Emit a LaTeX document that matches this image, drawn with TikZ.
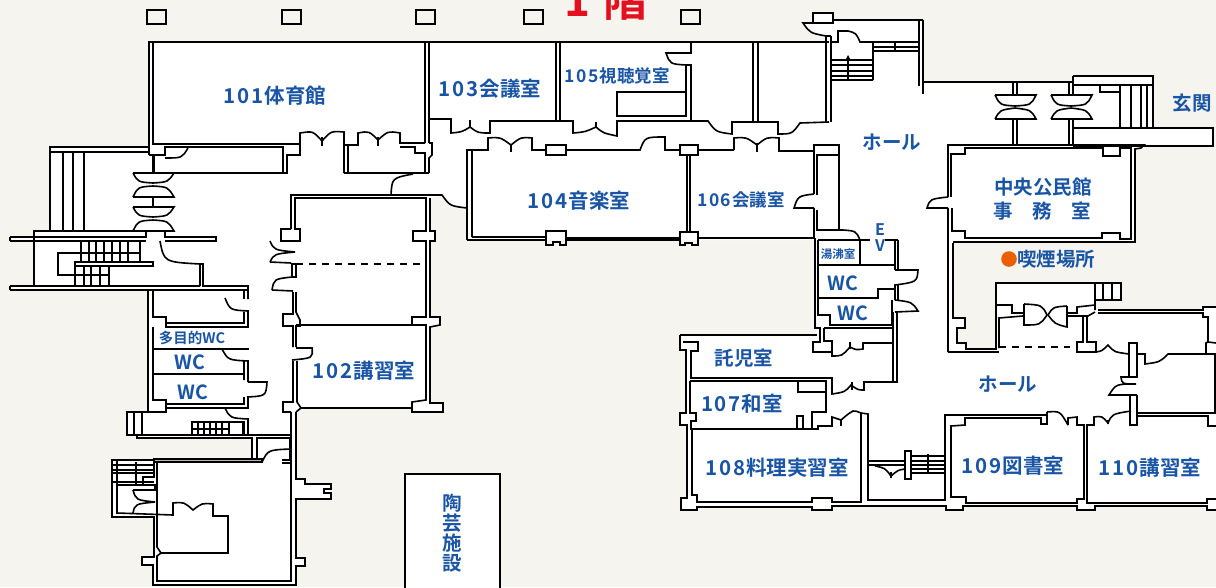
\documentclass[tikz,border=0pt]{standalone}
\usepackage{fontspec}
\newfontfamily\jp{Noto Sans CJK JP Bold}
\newfontfamily\ttl{Noto Sans CJK JP Bold}
\newcommand\dg[1]{{\addfontfeature{LetterSpace=9}#1\kern1pt}}
\definecolor{paper}{HTML}{F5F4EF}
\definecolor{lab}{HTML}{1A55A5}
\definecolor{ttlred}{HTML}{E5101F}
\definecolor{dot}{HTML}{EA6000}
\tikzset{
  wall/.style={draw=black,line width=1.6pt,line join=miter},
  thin wall/.style={draw=black,line width=1.3pt},
  lbl/.style={text=lab,inner sep=0pt,font=\jp\fontsize{20.5}{22}\selectfont},
  lblm/.style={text=lab,inner sep=0pt,font=\jp\fontsize{17.5}{19}\selectfont},
  lblx/.style={text=lab,inner sep=0pt,font=\jp\fontsize{19.5}{21}\selectfont},
  lblv/.style={text=lab,inner sep=0pt,font=\jp\fontsize{16}{17}\selectfont},
  lbls/.style={text=lab,inner sep=0pt,font=\jp\fontsize{14.5}{16}\selectfont},
}
\begin{document}
\begin{tikzpicture}[x=1pt,y=-1pt]
\useasboundingbox (0,0) rectangle (1216,587);
\clip (0,0) rectangle (1216,587);
\fill[paper] (0,0) rectangle (1216,587);
% white building
\fill[white] (149,42)--(825,42)--(825,36) .. controls (812,34) .. (803,23)--(813,23)--(813,13)--(833,13)--(833,20)--(923,20)--(923,82)--(1073,82)--(1073,76)--(1153,76)--(1153,128)--(1213,128)--(1213,146)--(1144,146)--(1135,149)--(1135,243)--(953,243)--(953,318)--(965,318)--(965,328)--(958,328)--(958,343)--(966,343)--(966,349)--(996,349)--(996,283)--(1121,283)--(1121,300)--(1095,300)--(1095,310)--(1203,310)--(1203,307)--(1216,307)--(1216,510)--(1207,510)--(1207,506)--(1095,506)--(1095,510)--(1077,510)--(1077,506)--(963,506)--(963,510)--(946,510)--(946,506)--(832,506)--(832,510)--(812,510)--(812,506)--(697,507)--(697,510)--(681,510)--(681,498)--(687,498)--(687,425)--(680,425)--(680,413)--(686,413)--(686,350)--(680,350)--(680,335)--(817,335)--(815,240)--(467,240)--(467,208) .. controls (450,206) .. (442,196)--(430,198)--(430,231)--(435,231)--(435,241)--(430,241)--(430,317)--(440,317)--(440,325)--(430,327)--(430,403)--(443,403)--(443,412)--(412,412)--(412,408)--(301,408)--(296,412)--(296,479)--(305,479)--(305,484)--(331,484)--(331,499)--(296,499)--(296,558)--(305,558)--(305,566)--(296,566)--(296,585)--(153,585)--(153,565)--(142,565)--(142,557)--(154,557)--(154,517)--(112,517)--(112,460)--(252,460)--(252,438)--(137,438)--(137,435)--(127,435)--(127,412)--(148,412)--(148,290)--(10,290)--(10,286)--(34,286)--(34,241)--(10,241)--(10,237)--(34,237)--(34,231)--(50,231)--(50,147)--(149,147)--cycle;
% windows
\foreach \a in {147,282,416,524,681}{\draw[wall] (\a,10) rectangle ++(19,14);}
% 101 and top wall
\draw[wall] (149,155)--(149,42)--(829,42);
\draw[wall] (300,144)--(153,144)--(153,42);
\draw[wall] (425,143)--(425,42) (429,143)--(429,42);
\draw[wall] (149,155)--(165,155)--(165,147)--(283,147)--(283,173);
\draw[wall] (165,158) .. controls (182,158) .. (188,148);
\draw[wall] (154,155)--(154,173)--(287,173)--(287,155)--(300,155)--(300,133) .. controls (313,131) .. (322,141) .. controls (331,131) .. (344,132)--(344,173);
\draw[wall] (322,137)--(322,146);
\draw[wall] (348,145)--(348,173) (344,173)--(429,173);
\draw[wall] (344,145)--(358,145)--(358,133) .. controls (369,131) .. (378,140) .. controls (388,131) .. (400,133)--(400,143)--(425,143);
\draw[wall] (378,137)--(378,146);
\draw[wall] (400,147)--(415,147)--(415,153)--(425,153)--(425,173);
\draw[wall] (429,143)--(432,143)--(432,155)--(429,158)--(429,173);
\draw[wall] (391,195) .. controls (392,178) .. (413,174);
% left annex
\draw[wall] (50,231)--(50,147)--(148,147) (50,152)--(148,152);
\draw[wall] (63,152)--(63,231) (73,152)--(73,231) (84,152)--(84,231);
\draw[wall] (34,287)--(34,231)--(146,231)--(146,238);
\draw[wall] (10,237)--(146,237) (10,241)--(146,241) (10,237)--(10,241);
\draw[wall] (165,231)--(165,237)--(216,237)--(216,241)--(165,241) (146,231)--(165,231);
\draw[wall] (153,155)--(153,173);
\draw[wall] (133,173)--(174,173) .. controls (168,182) .. (153,183) .. controls (138,182) .. (133,173);
\draw[wall] (133,197)--(174,197) .. controls (168,187) .. (153,186) .. controls (138,187) .. (133,197);
\draw[wall] (153,197)--(153,207);
\draw[wall] (133,207)--(174,207) .. controls (168,216) .. (153,217) .. controls (138,216) .. (133,207);
\draw[wall] (133,231)--(174,231) .. controls (168,221) .. (153,220) .. controls (138,221) .. (133,231);
% lower-left stair
\foreach \a in {81,89,96,104,112,120,128,140}{\draw[thin wall] (\a,241)--(\a,261);}
\draw[thin wall] (81,253)--(140,253);
\draw[wall] (81,253)--(58,253)--(58,275)--(75,275);
\draw[wall] (75,262)--(153,262)--(153,266)--(75,266)--cycle;
\foreach \a in {75,84,91,100,109}{\draw[thin wall] (\a,266)--(\a,287);}
\draw[thin wall] (75,275)--(109,275);
\draw[wall] (10,286)--(200,286) (10,290)--(248,290) (10,286)--(10,290);
\draw[wall] (160,241) .. controls (164,262) .. (200,264)--(200,286) (200,264)--(203,264)--(203,286)--(248,286)--(248,299);
% west rooms
\draw[wall] (148,290)--(148,412)--(127,412)--(127,435)--(291,435);
\draw[wall] (153,290)--(153,317)--(166,317)--(166,327)--(248,327)--(248,311) .. controls (230,310) .. (225,298);
\draw[wall] (166,323)--(244,323)--(244,312);
\draw[wall] (244,290)--(244,299);
\draw[wall] (153,327)--(153,400)--(166,400)--(166,412)--(148,412);
\draw[wall] (153,349)--(249,349) (153,374)--(244,374);
\draw[wall] (222,349) .. controls (228,360) .. (248,361)--(248,382) (244,361)--(244,380);
\draw[wall] (248,382)--(267,382) .. controls (266,396) .. (247,397);
\draw[wall] (244,397)--(244,404)--(166,404) (248,397)--(248,408)--(166,408);
\draw[wall] (225,408) .. controls (230,418) .. (248,419)--(248,435) (244,421)--(244,435);
\foreach \a in {134,142}{\draw[thin wall] (\a,412)--(\a,435);}
\draw[thin wall] (192,422) rectangle (243,435);
\foreach \a in {198,204,210,216,222,229}{\draw[thin wall] (\a,422)--(\a,435);}
\draw[thin wall] (192,429)--(229,429);
\draw[wall] (137,435)--(137,438)--(252,438)--(252,460) (257,459)--(257,438)--(290,438)--(290,460);
\draw[wall,fill=gray!60] (154,459) rectangle (262,462);
\draw[wall] (290,449) .. controls (268,450) .. (262,462);
\draw[wall] (282,460)--(291,460) (282,463)--(291,463);
% south-west block
\draw[wall] (291,412)--(291,581)--(157,581)--(157,556)--(161,553)--(157,547)--(157,462);
\draw[wall] (296,412)--(296,479)--(305,479)--(305,484)--(331,484)--(331,489)--(324,489)--(324,493)--(331,493)--(331,499)--(296,499)--(296,558)--(305,558)--(305,566)--(296,566)--(296,585)--(153,585)--(153,565)--(142,565)--(142,557)--(154,557)--(154,517)--(112,517)--(112,460)--(154,460)--(154,477)--(143,477)--(143,485);
\draw[wall] (117,460)--(117,513)--(173,515)--(173,503) .. controls (184,502) .. (193,510) .. controls (202,503) .. (213,504)--(213,516)--(228,516)--(228,553)--(161,553);
\draw[wall] (133,513) .. controls (135,504) .. (155,502);
\draw[wall] (133,490) .. controls (136,500) .. (155,502);
\draw[wall] (117,485)--(155,485)--(155,490)--(133,490) (155,490)--(157,490);
\foreach \a in {465,470,473,482}{\draw[thin wall] (112,\a)--(154,\a);}
\draw[thin wall] (136,462)--(136,485);
% 102
\draw[wall] (291,229)--(291,195)--(442,195) .. controls (450,206) .. (467,208);
\draw[wall] (291,229)--(281,229)--(281,241)--(300,241)--(300,229)--(295,229)--(295,198)--(426,198)--(426,231)--(413,231)--(413,241)--(426,241)--(426,317)--(412,317)--(412,325)--(296,325);
\draw[wall] (430,198)--(430,231)--(435,231)--(435,241)--(430,241)--(430,317)--(440,317)--(440,325)--(430,327)--(430,403)--(443,403)--(443,412)--(412,412)--(412,402)--(426,400)--(426,325)--(412,325);
\draw[wall,dash pattern=on 7pt off 6pt,line width=1.2pt] (296,264)--(426,264);
\draw[wall] (270,241) .. controls (274,250) .. (295,252) (270,262) .. controls (274,254) .. (295,252);
\draw[wall] (270,262)--(291,263);
\draw[wall] (292,264)--(292,277)--(296,277)--(296,264)--cycle;
\draw[wall] (272,290) .. controls (274,279) .. (292,277) (272,290)--(293,291);
\draw[wall] (293,292)--(293,314)--(283,314)--(283,326)--(293,326)--(293,347) (296,292)--(296,312)--(300,320)--(300,326)--(296,326)--(296,347);
\draw[wall] (296,348)--(312,348) .. controls (313,358) .. (292,360);
\draw[wall] (293,361)--(293,402)--(283,402)--(283,412)--(291,412) (297,361)--(297,402)--(301,408)--(296,412);
\draw[wall] (301,408)--(412,408);
% 103 / 105 top row
\draw[wall] (429,119)--(451,119)--(451,133) .. controls (462,132) .. (470,127) .. controls (478,133) .. (490,133)--(490,121)--(573,121)--(573,133) .. controls (585,132) .. (596,127) .. controls (603,133) .. (617,136)--(617,121)--(708,121) .. controls (716,132) .. (732,134)--(732,122)--(778,122)--(778,134) .. controls (792,134) .. (800,123)--(829,122);
\draw[wall] (470,120)--(470,128) (596,122)--(596,128);
\draw[wall] (556,42)--(556,120) (560,42)--(560,120);
\draw[wall] (753,42)--(753,121) (758,42)--(758,121);
\draw[wall] (686,65)--(691,65)--(691,121) (691,42)--(691,53)--(666,53) .. controls (670,64) .. (686,65)--(686,116);
\draw[wall] (617,92) rectangle (686,116);
% 104 & 106
\draw[wall] (472,237)--(472,150)--(488,150)--(488,138) .. controls (500,137) .. (511,145) .. controls (521,137) .. (532,138)--(532,150)--(546,150);
\draw[wall] (511,144)--(511,152);
\draw[wall] (467,240)--(467,150)--(472,150);
\draw[wall] (546,145) rectangle (566,155);
\draw[wall] (566,150)--(640,150) .. controls (645,137) .. (665,137)--(665,150)--(680,150);
\draw[wall] (680,145) rectangle (698,155);
\draw[wall,line width=2pt] (698,150)--(734,150);
\draw[wall] (734,150)--(734,138) .. controls (746,137) .. (757,145) .. controls (767,137) .. (779,138)--(779,151)--(814,151);
\draw[wall] (757,143)--(757,152);
\draw[wall] (687,155)--(687,231) (690,155)--(690,231);
\draw[wall] (472,237)--(546,237) (467,240)--(546,240);
\draw[wall] (546,231)--(566,231)--(566,245)--(560,245)--(560,242)--(553,242)--(553,245)--(546,245)--cycle;
\draw[wall] (566,238)--(680,238) (566,240)--(680,240);
\draw[wall] (680,232)--(698,232)--(698,245)--(692,245)--(692,243)--(685,243)--(685,245)--(680,245)--cycle;
\draw[wall] (698,238)--(815,238);
% 106 east core
\draw[wall] (814,194)--(814,145)--(839,145)--(839,230);
\draw[wall] (817,195)--(817,155)--(839,155);
\draw[wall] (814,208)--(794,208) .. controls (798,196) .. (814,194);
\draw[wall] (814,208)--(814,238) (817,210)--(817,230)--(843,230) .. controls (856,231) .. (860,240);
\draw[wall] (815,238)--(815,328)--(820,328)--(820,342)--(813,342)--(813,352)--(832,352);
\draw[wall] (818,240)--(860,240)--(860,265)--(818,265);
\draw[wall] (818,240)--(818,315)--(830,315)--(830,325)--(892,325)--(892,300);
\draw[wall] (860,240)--(870,240) (885,240)--(898,240);
\draw[wall] (860,265)--(895,265);
\draw[wall] (895,240)--(895,270) (898,240)--(898,270);
\draw[wall] (895,270)--(918,270) .. controls (917,282) .. (895,285)--(895,300) (898,285)--(898,300);
\draw[wall] (818,298)--(878,298)--(878,289)--(895,289);
\draw[wall] (895,300) .. controls (912,302) .. (918,311)--(895,312);
\draw[wall] (897,312)--(897,382)--(864,382)--(864,390) .. controls (858,390) .. (851,385) .. controls (845,392) .. (832,394)--(832,378)--(690,378) (893,312)--(893,382);
\draw[wall] (852,382)--(852,390);
\draw[wall] (824,328)--(893,328) (824,328)--(824,341)--(832,341)--(832,356) .. controls (842,356) .. (850,347) .. controls (856,350) .. (863,349)--(863,343)--(893,343);
\draw[wall] (850,342)--(850,349);
% west of nursery
\draw[wall] (680,335)--(817,335) (680,335)--(680,350)--(686,350)--(686,413)--(680,413)--(680,425)--(687,425)--(687,498)--(681,498)--(681,510)--(697,510)--(697,507)--(812,507)--(812,510)--(832,510)--(832,506)--(946,506)--(946,510)--(963,510)--(963,506)--(1077,506)--(1077,510)--(1095,510)--(1095,506)--(1207,506)--(1207,510)--(1216,510);
\draw[wall] (683,342)--(698,342)--(698,351)--(691,351)--(691,378);
\draw[wall] (690,381)--(826,381)--(826,392)--(798,392)--(798,381);
\draw[wall] (826,392)--(826,412)--(812,412)--(812,428);
\draw[wall] (690,381)--(690,413)--(696,413)--(696,421)--(691,421)--(691,429)--(818,429)--(818,426)--(832,426)--(832,417) .. controls (836,419) .. (841,420) .. controls (848,414) .. (853,411) .. controls (856,411) .. (861,413);
\draw[wall] (797,429)--(797,416)--(803,416)--(803,429);
\draw[wall] (841,420)--(841,426);
\draw[wall] (692,429)--(692,495)--(697,495)--(697,502)--(812,502)--(812,498)--(832,498)--(832,502)--(861,502)--(861,413)--(868,414)--(868,500)--(945,500);
% passage stair
\draw[wall] (868,461)--(905,461) (868,465)--(905,465);
\draw[wall] (875,466) .. controls (885,468) .. (891,476) .. controls (898,470) .. (905,469);
\draw[wall] (891,472)--(891,478);
\draw[wall] (905,451) rectangle (911,479);
\foreach \a in {456,461,465,469,473}{\draw[thin wall] (911,\a)--(945,\a);}
\draw[thin wall] (928,454)--(928,473);
% 109
\draw[wall] (945,501)--(945,415)--(1047,415);
\draw[wall] (1047,412)--(1047,424)--(1041,424)--(1041,418)--(965,418)--(965,425)--(951,426)--(951,497)--(966,497)--(966,503)--(1077,503)--(1077,499)--(1084,499)--(1084,425)--(1077,425)--(1077,417) .. controls (1072,417) .. (1068,418)--(1068,425);
\draw[wall] (1047,412) .. controls (1060,411) .. (1068,425);
% 110
\draw[wall] (1087,499)--(1087,425)--(1094,425)--(1094,417) .. controls (1102,416) .. (1108,423) .. controls (1112,414) .. (1131,411);
\draw[wall] (1108,420)--(1108,424);
\draw[wall] (1087,499)--(1087,503)--(1207,503)--(1207,499)--(1216,499);
\draw[wall] (1130,395)--(1130,425)--(1137,425)--(1137,395);
\draw[wall] (1137,416)--(1208,416)--(1208,426)--(1216,426);
\draw[wall] (1137,413)--(1215,413)--(1215,354)--(1168,354) .. controls (1160,362) .. (1145,364)--(1145,354)--(1137,354);
\draw[wall] (1129,343) rectangle (1137,377);
\draw[wall] (1129,377)--(1121,377) .. controls (1122,384) .. (1136,384) .. controls (1116,384) .. (1109,395)--(1137,395);
% entrance block / right rooms
\draw[wall] (953,243)--(953,318)--(965,318)--(965,328)--(957,328)--(957,343)--(966,343)--(966,349)--(996,349)--(996,283)--(1121,283)--(1121,300)--(1095,300);
\draw[wall] (1103,283)--(1103,300) (1112,283)--(1112,300);
\draw[wall] (1095,283)--(1095,310) (1098,310)--(1203,310)--(1203,307)--(1216,307) (1098,313)--(1203,313)--(1203,317)--(1208,317)--(1208,342)--(1206,343)--(1206,354) (1208,342)--(1216,343);
\draw[wall] (999,348)--(999,318)--(1023,316) (997,305)--(1012,305)--(1012,313)--(1023,313);
\draw[wall] (948,352)--(966,352) (966,352)--(999,352);
\draw[wall] (1024,304)--(1024,325) .. controls (1040,325) .. (1047,315) .. controls (1042,305) .. (1024,304);
\draw[wall] (1067,306)--(1067,327) .. controls (1055,324) .. (1048,315) .. controls (1053,307) .. (1067,306);
\draw[wall] (1068,313)--(1077,313)--(1077,307)--(1095,305);
\draw[wall] (1068,316)--(1088,316)--(1095,312);
\draw[wall,dash pattern=on 7pt off 6pt,line width=1.2pt] (999,347)--(1070,347);
\draw[wall] (1083,317)--(1083,342)--(1077,342)--(1077,352)--(1096,352)--(1096,342)--(1087,342)--(1087,317);
\draw[wall] (1096,352) .. controls (1102,351) .. (1108,345) .. controls (1114,352) .. (1129,354);
% office
\draw[wall] (948,197)--(948,145)--(1144,145)--(1141,148)--(1135,149)--(1135,242)--(953,242);
\draw[wall] (951,197)--(951,154)--(965,154)--(965,148)--(1103,148)--(1103,156)--(1120,156)--(1120,148)--(1131,148)--(1131,239)--(1120,239)--(1120,233)--(1102,233)--(1102,238)--(965,238)--(965,231)--(952,231)--(952,208);
\draw[wall] (948,208)--(948,352) (948,208)--(927,208) .. controls (930,199) .. (948,197);
% hall north + entrance
\draw[wall] (919,86)--(919,20) (923,94)--(923,20) (833,20)--(923,20);
\draw[wall] (923,82)--(1073,82);
\draw[wall] (1013,82)--(1013,95) (1017,82)--(1017,95) (1013,119)--(1013,145) (1017,119)--(1017,145);
\draw[wall] (1069,82)--(1069,95) (1073,76)--(1073,95) (1069,119)--(1069,145) (1073,119)--(1073,145);
\foreach \c in {1015,1071}{
\draw[wall] (\c-20,95)--(\c+21,95) .. controls (\c+16,105) .. (\c,106) .. controls (\c-15,105) .. (\c-20,95);
\draw[wall] (\c-20,119)--(\c+21,119) .. controls (\c+16,110) .. (\c,108) .. controls (\c-15,110) .. (\c-20,119);
}
\draw[wall] (1073,76)--(1153,76)--(1153,128) (1073,85)--(1153,85) (1073,128)--(1213,128)--(1213,146)--(1073,146);
\foreach \a in {1120,1131,1141,1147}{\draw[thin wall] (\a,85)--(\a,128);}
\draw[wall] (1100,85)--(1100,92)--(1120,92);
% top stair
\draw[wall] (813,13) rectangle (833,23);
\draw[wall] (813,23)--(803,23) .. controls (810,33) .. (826,36);
\draw[wall] (826,36)--(826,122) (831,36)--(831,122) (826,36)--(831,36);
\draw[wall] (831,42)--(838,42)--(838,31)--(848,31) .. controls (856,33) .. (860,42)--(873,42)--(873,80);
\foreach \a in {42,47,51}{\draw[thin wall] (873,\a)--(919,\a);}
\draw[thin wall] (895,42)--(895,51);
\foreach \a in {60,65,71,76,80}{\draw[thin wall] (831,\a)--(873,\a);}
\draw[thin wall] (848,57)--(848,80);
\fill (848,55)--(846,59)--(850,59)--cycle;
% ceramics
\draw[wall,fill=white] (405,592)--(405,474)--(500,474)--(500,592);
% labels
\node[lbl] (r101) at (275,96) {\dg{101}体育館};
\node[lbl] (r103) at (490,89) {\dg{103}会議室};
\node[lblm] (r105) at (617,76) {\dg{105}視聴覚室};
\node[lbl] (r104) at (579,201) {\dg{104}音楽室};
\node[lblm] (r106) at (741,200) {\dg{106}会議室};
\node[lbl] (r102) at (364,371) {\dg{102}講習室};
\node[lblx] (hall1) at (892,142) {ホール};
\node[lblx] (off1) at (1043,187) {中央公民館};
\node[lblx] (off2) at (1042,211) {事\hspace{1em}務\hspace{1em}室};
\node[lblx] (ent) at (1192,103) {玄関};
\node[lblv] (eve) at (880,230) {E};
\node[lblv] (evv) at (880,246) {V};
\node[text=lab,inner sep=0pt,font=\jp\fontsize{11.5}{13}\selectfont] (yu) at (838,254) {湯沸室};
\fill[dot] (1009,259) circle (7.8);
\node[lblx] (smoke) at (1056,259) {喫煙場所};
\node[lblx] (wc1) at (843,283) {WC};
\node[lblx] (wc2) at (853,313) {WC};
\node[lbls] (wcm) at (192,338) {多目的WC};
\node[lblx] (wc3) at (190,362) {WC};
\node[lblx] (wc4) at (193,392) {WC};
\node[lblx] (r0) at (744,358) {託児室};
\node[lbl] (r107) at (742,404) {\dg{107}和室};
\node[lbl] (r108) at (777,468) {\dg{108}料理実習室};
\node[lblx] (hall2) at (1008,384) {ホール};
\node[lbl] (r109) at (1013,466) {\dg{109}図書室};
\node[lbl] (r110) at (1150,468) {\dg{110}講習室};
\node[lblx] (c1) at (452,503) {陶};
\node[lblx] (c2) at (452,523) {芸};
\node[lblx] (c3) at (452,543) {施};
\node[lblx] (c4) at (452,563) {設};
\node[text=ttlred,inner sep=0pt,font=\ttl\fontsize{44}{44}\selectfont] (title) at (606,0) {1\hspace{0.3em}階};
\end{tikzpicture}
\end{document}
